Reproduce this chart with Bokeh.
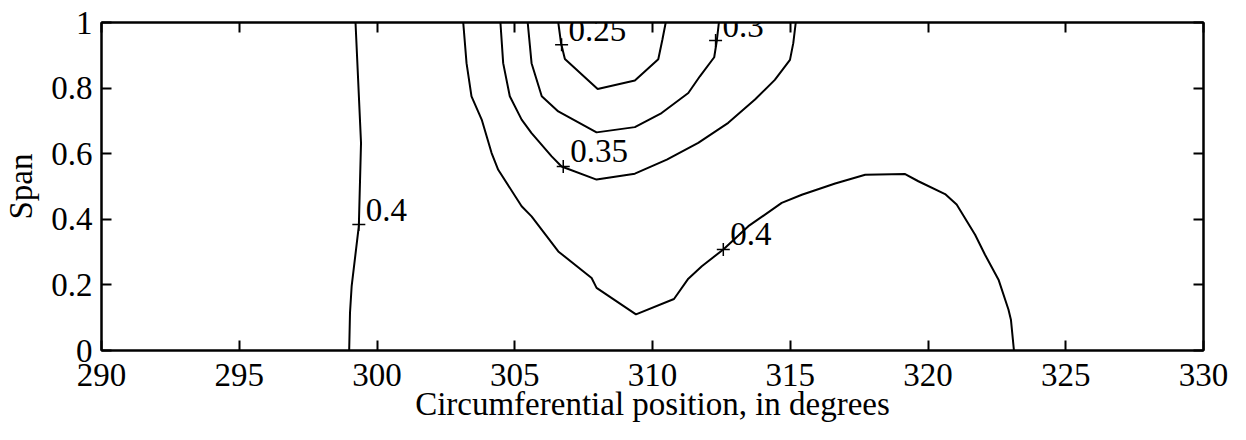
from bokeh.plotting import figure
from bokeh.models import Range1d, LinearAxis, FixedTicker, CustomJSTickFormatter
from bokeh.embed import file_html
from bokeh.resources import INLINE
from bokeh.core.properties import value

# ---- data ----
x_ticks = [290, 295, 300, 305, 310, 315, 320, 325, 330]
y_ticks = [0, 0.2, 0.4, 0.6, 0.8, 1.0]
y_tick_labels = ["0", "0.2", "0.4", "0.6", "0.8", "1"]

# contour level 0.25
c025_x = [306.58, 306.68, 306.82, 308.01, 309.36, 310.21, 310.36, 310.48]
c025_y = [1.0, 0.937, 0.889, 0.797, 0.823, 0.888, 0.948, 1.0]
# contour level 0.3
c030_x = [305.47, 305.61, 305.98, 306.58, 307.97, 309.36, 310.33, 311.30, 311.72, 312.24, 312.33, 312.41]
c030_y = [1.0, 0.876, 0.775, 0.729, 0.665, 0.681, 0.724, 0.785, 0.836, 0.894, 0.942, 1.0]
# contour level 0.35
c035_x = [304.48, 304.58, 304.82, 305.25, 305.61, 306.34, 306.70, 307.97, 309.36, 310.52, 311.66,
          312.75, 313.72, 314.44, 314.99, 315.11, 315.20]
c035_y = [1.0, 0.876, 0.775, 0.704, 0.663, 0.592, 0.561, 0.521, 0.539, 0.582, 0.633,
          0.694, 0.765, 0.825, 0.886, 0.937, 1.0]
# contour level 0.4 (left, nearly vertical)
c040a_x = [299.22, 299.42, 299.34, 299.08, 299.02, 298.99]
c040a_y = [1.0, 0.633, 0.379, 0.196, 0.115, 0.0]
# contour level 0.4 (bowl)
c040b_x = [303.13, 303.25, 303.43, 303.80, 304.16, 304.40, 305.25, 305.61, 306.58, 307.79, 307.97,
           309.40, 310.78, 311.30, 311.79, 312.57, 313.48, 314.69, 315.42, 316.63, 317.72, 319.17,
           319.65, 320.62, 321.04, 321.71, 322.07, 322.56, 322.92, 323.01, 323.12]
c040b_y = [1.0, 0.876, 0.775, 0.704, 0.602, 0.551, 0.440, 0.409, 0.302, 0.221, 0.191,
           0.110, 0.157, 0.219, 0.257, 0.308, 0.379, 0.450, 0.475, 0.509, 0.536, 0.538,
           0.516, 0.477, 0.445, 0.353, 0.292, 0.216, 0.125, 0.094, 0.0]

# contour labels
label_x = [299.34, 306.70, 312.29, 306.76, 312.57]
label_y = [0.384, 0.932, 0.945, 0.561, 0.308]
label_text = ["0.4", "0.25", "0.3", "0.35", "0.4"]

FONT = "Liberation Serif"
FS = "33px"

p = figure(frame_width=1102, frame_height=328, output_backend="svg", toolbar_location=None,
           x_range=Range1d(290, 330), y_range=Range1d(0, 1),
           min_border_left=92, min_border_right=28, min_border_top=22, min_border_bottom=60)
p.background_fill_color = "white"
p.border_fill_color = "white"
p.grid.visible = False
p.outline_line_color = "black"
p.outline_line_width = 2

for xs, ys in [(c025_x, c025_y), (c030_x, c030_y), (c035_x, c035_y),
               (c040a_x, c040a_y), (c040b_x, c040b_y)]:
    p.line(xs, ys, line_color="black", line_width=2)

p.scatter(label_x, label_y, marker="cross", size=13, line_color="black", line_width=1.5)
p.text(label_x, label_y, text=label_text, text_font=value(FONT), text_font_size=value(FS),
       text_align="left", text_baseline="alphabetic", x_offset=7, y_offset=-15, text_color="black")


def style_axis(ax):
    ax.axis_line_color = "black"
    ax.axis_line_width = 2
    ax.major_tick_in = 10
    ax.major_tick_out = 0
    ax.major_tick_line_width = 2
    ax.major_tick_line_color = "black"
    ax.minor_tick_line_color = None
    ax.major_label_text_font = FONT
    ax.major_label_text_font_size = FS
    ax.major_label_text_color = "black"
    ax.axis_label_text_font = FONT
    ax.axis_label_text_font_style = "normal"
    ax.axis_label_text_color = "black"
    ax.axis_label_text_font_size = FS


xb = p.xaxis[0]
yl = p.yaxis[0]
xb.ticker = FixedTicker(ticks=x_ticks)
yl.ticker = FixedTicker(ticks=y_ticks)
yl.major_label_overrides = {t: s for t, s in zip(y_ticks, y_tick_labels)}
style_axis(xb)
style_axis(yl)
xb.axis_label = "Circumferential position, in degrees"
yl.axis_label = "Span"
xb.major_label_standoff = 13
xb.axis_label_standoff = -3
yl.major_label_standoff = 9
yl.axis_label_standoff = 9

blank = CustomJSTickFormatter(code="return ''")
xt = LinearAxis(ticker=FixedTicker(ticks=x_ticks), formatter=blank)
yr = LinearAxis(ticker=FixedTicker(ticks=y_ticks), formatter=blank)
style_axis(xt)
style_axis(yr)
for ax in (xt, yr):
    ax.major_label_standoff = 0
    ax.major_label_text_font_size = "1px"
p.add_layout(xt, "above")
p.add_layout(yr, "right")

open("out.html", "w").write(file_html(p, INLINE))
